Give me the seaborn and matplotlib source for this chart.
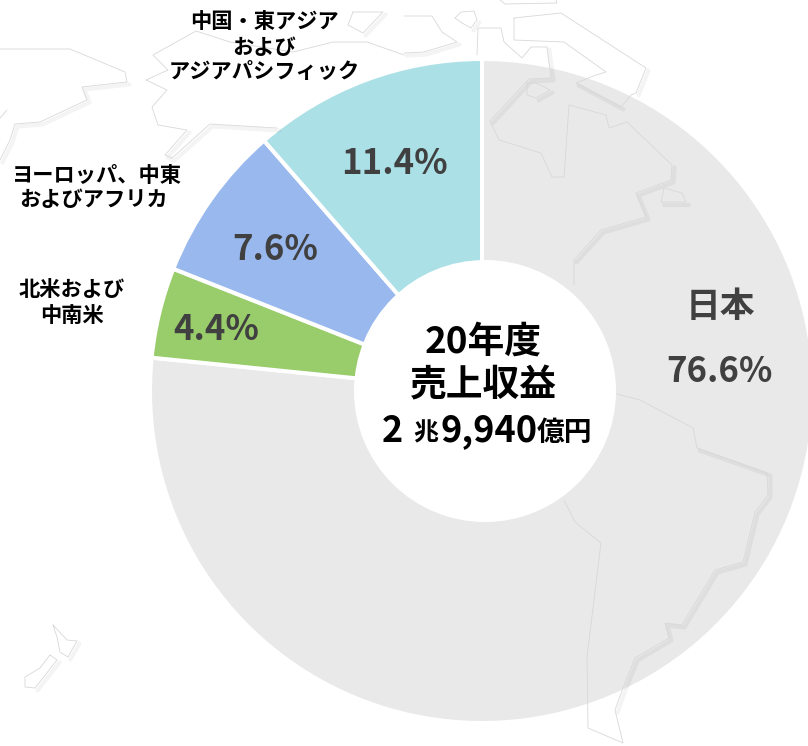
import matplotlib
matplotlib.use("Agg")
import matplotlib.pyplot as plt
from matplotlib.patches import Circle
import seaborn as sns

# data
segments = ["日本", "北米および中南米", "ヨーロッパ、中東およびアフリカ", "中国・東アジアおよびアジアパシフィック"]
shares = [76.6, 4.4, 7.6, 11.4]
share_labels = ["76.6%", "4.4%", "7.6%", "11.4%"]
colors = ["#e9e9e9", "#99cc6a", "#98b8ee", "#aae0e6"]

# background map outlines, in picture pixels
coast_paths = [
    [(0, 49), (70, 49), (125, 72), (127, 82), (82, 87), (87, 100), (40, 122), (15, 124), (10, 140), (0, 160)],
    [(0, 118), (7, 110)],
    [(404, 55), (367, 42), (333, 42), (293, 52), (230, 42), (196, 31), (153, 55), (168, 70), (146, 80), (167, 90),
     (152, 107), (158, 125), (187, 130), (165, 155), (172, 158), (210, 124), (277, 128)],
    [(353, 12), (383, 12), (363, 33), (348, 25), (353, 12)],
    [(455, 18), (461, 12), (474, 11), (477, 20), (471, 28), (462, 23), (455, 18)],
    [(404, 16), (432, 16), (442, 32), (457, 42), (424, 52), (404, 53)],
    [(477, 55), (478, 28), (501, 28), (504, 42), (522, 58), (531, 47), (547, 47), (549, 63), (551, 78), (529, 79),
     (490, 121), (499, 140), (541, 153), (552, 177), (564, 177), (569, 105), (606, 115), (609, 128), (627, 122),
     (672, 165), (671, 180), (636, 193), (646, 217), (601, 230), (574, 260), (574, 285)],
    [(514, 18), (561, 13), (646, 68), (636, 93), (631, 95), (621, 107), (576, 83), (596, 75), (606, 72), (564, 42),
     (514, 40), (514, 18)],
    [(527, 83), (536, 83), (550, 90), (536, 98), (527, 95), (527, 83)],
    [(661, 202), (664, 188), (682, 193), (686, 202), (661, 202)],
    [(617, 394), (640, 400), (693, 428), (697, 448), (767, 473), (768, 495), (755, 512), (743, 562), (715, 570),
     (682, 625), (665, 623), (669, 638), (635, 658), (623, 688), (615, 710), (623, 743), (588, 728), (587, 657),
     (601, 543), (575, 522), (564, 500)],
    [(53, 625), (67, 640), (77, 641), (68, 657), (60, 652), (57, 637), (53, 625)],
    [(50, 655), (57, 660), (35, 688), (25, 687), (25, 677), (40, 668), (50, 655)],
    [(500, 0), (505, 4), (557, 3), (556, 0)],
]

# soft shadow under the coast on its lower right sides
shadow_paths = [
    [(127, 82), (82, 87), (87, 100), (40, 122), (15, 124), (10, 140), (0, 160)],
    [(187, 130), (165, 155), (172, 158), (210, 124), (277, 128)],
    [(383, 12), (363, 33)],
    [(477, 20), (471, 28)],
    [(457, 42), (424, 52), (404, 53)],
    [(547, 47), (549, 63), (551, 78), (529, 79), (490, 121)],
    [(646, 68), (636, 93)],
    [(621, 107), (576, 83)],
    [(550, 90), (536, 98)],
    [(686, 202), (661, 202)],
    [(672, 165), (671, 180), (636, 193), (646, 217), (601, 230), (574, 260)],
    [(697, 448), (768, 473), (768, 495), (755, 512), (743, 562), (715, 570), (682, 625), (665, 623), (669, 638),
     (635, 658), (623, 688), (615, 710)],
    [(77, 641), (68, 657)],
    [(57, 660), (35, 688)],
]

sns.set_theme(style="white")
plt.rcParams["font.family"] = ["Noto Sans CJK JP", "DejaVu Sans"]

fig = plt.figure(figsize=(8.08, 7.46), dpi=100)

# donut, one data unit = one pixel
pie_ax = fig.add_axes([0, 0, 1, 1])
pie_ax.pie(shares, colors=sns.color_palette(colors), startangle=90, counterclock=False,
           radius=332, frame=True, wedgeprops=dict(width=220, edgecolor="white", linewidth=2.9))
pie_ax.set_xlim(-482, 326)
pie_ax.set_ylim(-355, 391)
pie_ax.axis("off")

# everything on top in picture pixels
ax = fig.add_axes([0, 0, 1, 1])
ax.set_xlim(0, 808)
ax.set_ylim(746, 0)
ax.axis("off")
ax.patch.set_alpha(0)

for path in shadow_paths:
    xs = [p[0] + 2.5 for p in path]
    ys = [p[1] + 2.5 for p in path]
    ax.plot(xs, ys, color="black", alpha=0.045, lw=3, solid_capstyle="round", zorder=2)
for path in coast_paths:
    xs = [p[0] for p in path]
    ys = [p[1] for p in path]
    ax.plot(xs, ys, color="#d8d8d8", lw=0.6, zorder=3)

ax.add_patch(Circle((485, 391), 131, color="white", lw=0, zorder=4))

# outer labels
label_kw = dict(ha="center", va="center", fontsize=15.3, fontweight="bold", color="black", zorder=5)
ax.text(264, 21, "中国・東アジア", **label_kw)
ax.text(264, 47, "および", **label_kw)
ax.text(264, 72, "アジアパシフィック", **label_kw)
ax.text(97, 176, "ヨーロッパ、中東", **label_kw)
ax.text(94, 200, "およびアフリカ", **label_kw)
ax.text(72, 290, "北米および", **label_kw)
ax.text(72, 315, "中南米", **label_kw)

# share labels
share_kw = dict(ha="center", va="center", fontsize=25, fontweight="bold", color="#404040", zorder=5)
ax.text(720, 307, segments[0], **share_kw)
ax.text(719, 371, share_labels[0], **share_kw)
ax.text(216, 330, share_labels[1], **share_kw)
ax.text(275, 250, share_labels[2], **share_kw)
ax.text(394, 164, share_labels[3], **share_kw)

# centre total
ax.text(483, 342, "20年度", ha="center", va="center", fontsize=26.5, fontweight="bold", color="black", zorder=5)
ax.text(483, 386, "売上収益", ha="center", va="center", fontsize=26.5, fontweight="bold", color="black", zorder=5)
ax.text(382, 431, "2", ha="left", va="center", fontsize=26, fontweight="bold", color="black", zorder=5)
ax.text(413, 433, "兆", ha="left", va="center", fontsize=18, fontweight="bold", color="black", zorder=5)
ax.text(440, 431, "9,940", ha="left", va="center", fontsize=26, fontweight="bold", color="black", zorder=5)
ax.text(537, 433, "億円", ha="left", va="center", fontsize=20, fontweight="bold", color="black", zorder=5)

fig.savefig("out.png", dpi=100)
